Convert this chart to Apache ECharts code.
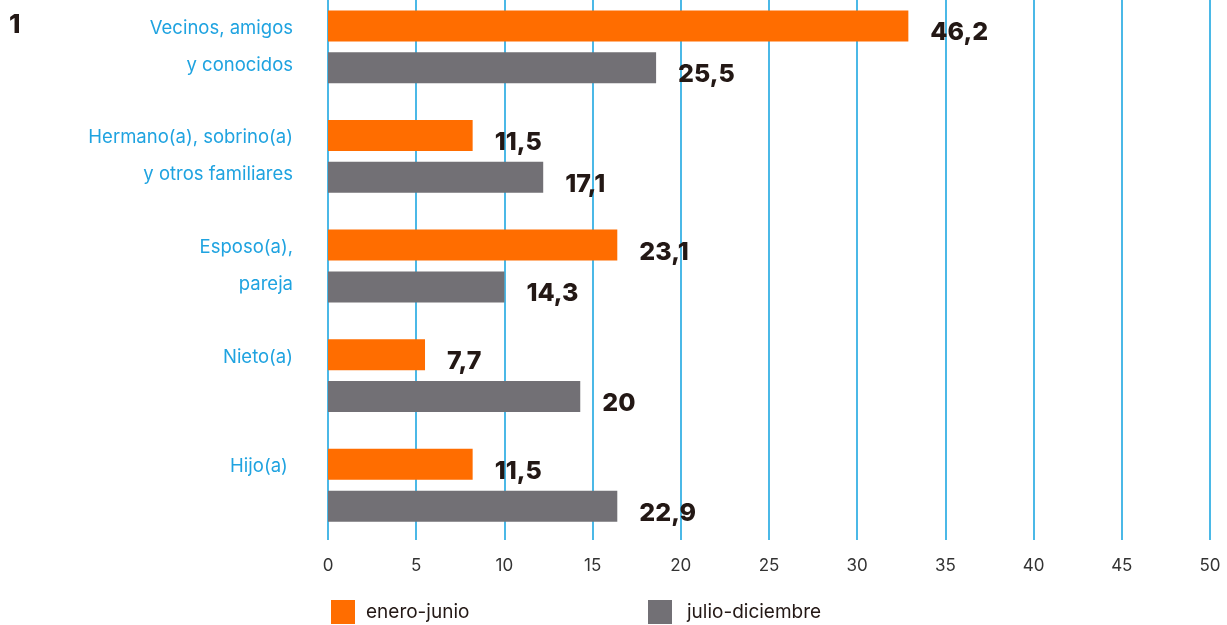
<!DOCTYPE html>
<html><head><meta charset="utf-8">
<script src="https://cdn.jsdelivr.net/npm/echarts@6/dist/echarts.min.js"></script>
<style>html,body{margin:0;padding:0;background:#fff;overflow:hidden}#c{position:absolute;left:0;top:-8px;width:1227px;height:633px}</style>
</head><body><div id="c"></div>
<script>
const categories = ['Vecinos, amigos\ny conocidos', 'Hermano(a), sobrino(a)\ny otros familiares', 'Esposo(a),\npareja', 'Nieto(a)\n ', 'Hijo(a) \n '];
const seriesNames = ['enero-junio', 'julio-diciembre'];
// bar lengths as drawn against the axis in the reference
const barEneroJunio = [32.9, 8.2, 16.4, 5.5, 8.2];
const barJulioDiciembre = [18.6, 12.2, 10.0, 14.3, 16.4];
// values printed on the bar labels
const labelEneroJunio = ['46,2', '11,5', '23,1', '7,7', '11,5'];
const labelJulioDiciembre = ['25,5', '17,1', '14,3', '20', '22,9'];
const xTicks = {min: 0, max: 50, interval: 5};

const chart = echarts.init(document.getElementById('c'));
const FONT = 'Inter';
function valLabel(arr){
  return {show:true, position:'right', distance:22, offset:[0,7],
    formatter: p => arr[p.dataIndex],
    color:'#231815', fontFamily:FONT, fontWeight:800, fontSize:25};
}
chart.setOption({
  animation:false,
  graphic:[{type:'text', left:9, top:20, style:{text:'1', fontFamily:FONT, fontWeight:800, fontSize:26, fill:'#231815'}}],
  legend:[
    {data:[seriesNames[0]], left:331, top:608, padding:0, itemWidth:24, itemHeight:24, icon:'rect',
     textStyle:{fontFamily:FONT, fontSize:19, color:'#231815', padding:[0,0,0,6]}},
    {data:[seriesNames[1]], left:648, top:608, padding:0, itemWidth:24, itemHeight:24, icon:'rect',
     textStyle:{fontFamily:FONT, fontSize:19, color:'#231815', padding:[0,0,0,10]}}
  ],
  grid:{left:328, right:17, top:0, height:548, containLabel:false},
  xAxis:{type:'value', min:xTicks.min, max:xTicks.max, interval:xTicks.interval,
    axisLine:{show:false}, axisTick:{show:false},
    splitLine:{show:true, lineStyle:{color:'#1ea7e1', width:1.6}},
    axisLabel:{margin:17, color:'#333', fontFamily:FONT, fontSize:17}},
  yAxis:{type:'category', inverse:true, data:categories,
    axisLine:{show:false}, axisTick:{show:false},
    axisLabel:{margin:35, color:'#1fa3e0', fontFamily:FONT, fontSize:18.5, lineHeight:37, align:'right'}},
  series:[
    {name:seriesNames[0], type:'bar', data:barEneroJunio, barWidth:31, barGap:'35%',
     itemStyle:{color:'#ff6d00'}, label:valLabel(labelEneroJunio)},
    {name:seriesNames[1], type:'bar', data:barJulioDiciembre, barWidth:31, barGap:'35%',
     itemStyle:{color:'#727075'}, label:valLabel(labelJulioDiciembre)}
  ]
});
</script></body></html>
